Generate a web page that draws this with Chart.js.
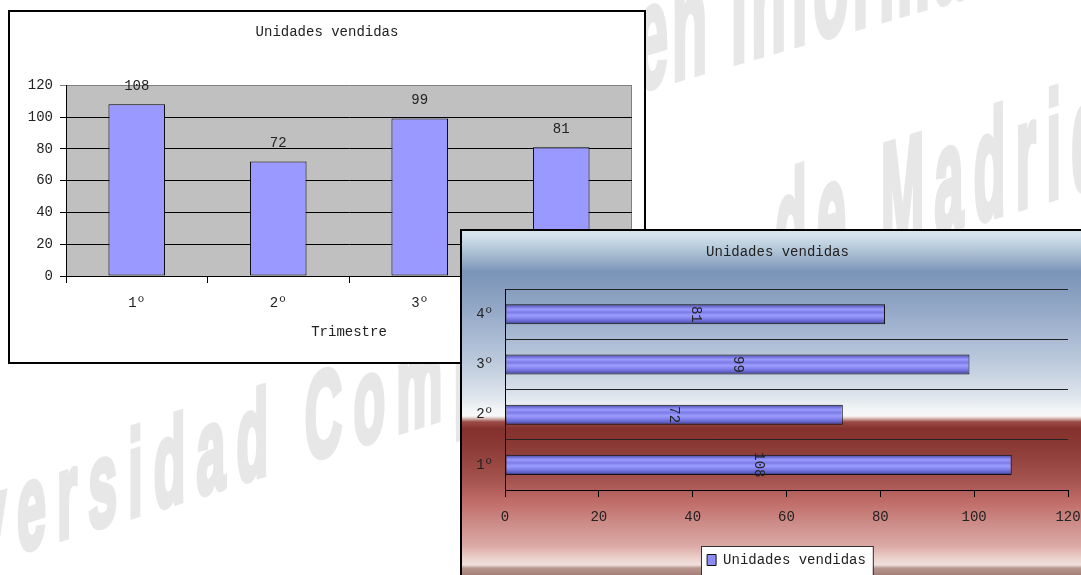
<!DOCTYPE html>
<html>
<head>
<meta charset="utf-8">
<script src="https://cdn.jsdelivr.net/npm/chart.js@4.4.1/dist/chart.umd.min.js"></script>
<style>
    html, body { margin: 0; padding: 0; background: #fff; width: 1081px; height: 575px; overflow: hidden; position: relative; }
    .wm {
        position: absolute; font-family: "Liberation Sans", Arial, sans-serif; font-weight: bold; line-height: 1;
        color: #e7e7e7; -webkit-text-stroke: 6px #e7e7e7; white-space: nowrap; transform-origin: 0 0;
    }
    #box1 { position: absolute; left: 8px; top: 10px; width: 634px; height: 350px; border: 2px solid #000; background: #fff; }
    #box2 {
        position: absolute; left: 460px; top: 229px; width: 640px; height: 346px; border: 2px solid #000;
        background: linear-gradient(to bottom,
            #d6e4ee 3px, #b4c8d8 18px, #8aa2c2 35px, #7a94b8 41px, #96aac8 81px, #bccadc 131px,
            #dde4ec 165px, #f2f4f6 178px, #f8f8f8 185px, #e0c8c4 187px, #9a4a46 191px, #84302c 198px,
            #8c3a36 215px, #a4524e 248px, #c06c68 271px, #cc8a86 291px, #dcaaa6 315px, #ecd4ce 328px,
            #f0e0dc 334px, #b89890 337px, #a07870 346px);
    }
    canvas { display: block; }
</style>
</head>
<body>
<div class="wm" style="left:636px; top:-34px; font-size:148px; letter-spacing:10px; transform: skewY(-16deg) scaleX(0.39);">en Informática</div>
<div class="wm" style="left:-140px; top:499px; font-size:122px; letter-spacing:26px; transform: skewY(-17.5deg) scaleX(0.426);">Universidad Complutense</div>
<div class="wm" style="left:775px; top:155px; font-size:151px; letter-spacing:30px; -webkit-text-stroke-width:7px; transform: skewY(-17deg) scaleX(0.344);">de Madrid</div>

<div id="box1"><canvas id="columnas" width="634" height="350"></canvas></div>
<div id="box2"><canvas id="barras" width="640" height="346"></canvas></div>

<script>
    const titulo = 'Unidades vendidas';
    const serieNombre = 'Unidades vendidas';
    const ejeX = 'Trimestre';
    const trimestres = ['1º', '2º', '3º', '4º'];
    const unidades = [108, 72, 99, 81];
    const ejeMax = 120;
    const ejePaso = 20;

    const mono = '"Liberation Mono", "DejaVu Sans Mono", monospace';
    const fuente = { family: mono, size: 14, weight: 'normal' };
    const tinta = '#222';

    // fondo gris del area de trazado (solo el primer grafico)
    const fondoGris = {
        id: 'fondoGris',
        beforeDraw(chart) {
            const { ctx, chartArea: a } = chart;
            ctx.save();
            ctx.fillStyle = '#c0c0c0';
            ctx.fillRect(a.left, a.top, a.right - a.left, a.bottom - a.top);
            ctx.strokeStyle = '#808080';
            ctx.lineWidth = 1;
            ctx.beginPath();
            ctx.moveTo(a.right - 0.5, a.top);
            ctx.lineTo(a.right - 0.5, a.bottom);
            ctx.stroke();
            ctx.restore();
        }
    };

    const valoresArriba = {
        id: 'valoresArriba',
        afterDatasetsDraw(chart) {
            const { ctx } = chart;
            const meta = chart.getDatasetMeta(0);
            ctx.save();
            ctx.font = `14px ${mono}`;
            ctx.fillStyle = tinta;
            ctx.textAlign = 'center';
            ctx.textBaseline = 'middle';
            meta.data.forEach((bar, i) => {
                ctx.fillText(String(chart.data.datasets[0].data[i]), bar.x, bar.y - 18);
            });
            ctx.restore();
        }
    };

    const valoresGirados = {
        id: 'valoresGirados',
        afterDatasetsDraw(chart) {
            const { ctx } = chart;
            const meta = chart.getDatasetMeta(0);
            ctx.save();
            ctx.font = `14px ${mono}`;
            ctx.fillStyle = tinta;
            ctx.textAlign = 'center';
            ctx.textBaseline = 'middle';
            meta.data.forEach((bar, i) => {
                ctx.save();
                ctx.translate((bar.x + bar.base) / 2, bar.y);
                ctx.rotate(Math.PI / 2);
                ctx.fillText(String(chart.data.datasets[0].data[i]), 0, 0);
                ctx.restore();
            });
            ctx.restore();
        }
    };

    const cajaLeyenda = {
        id: 'cajaLeyenda',
        afterLayout(chart) {
            // el titulo del original queda algo a la izquierda del centro del area
            const t = chart.titleBlock;
            if (t) { t.left -= 9; t.right -= 9; }
        },
        beforeDraw(chart) {
            const lg = chart.legend;
            if (!lg) return;
            const { ctx } = chart;
            ctx.save();
            ctx.font = `14px ${mono}`;
            const w = lg.options.labels.boxWidth + 7 + ctx.measureText(serieNombre).width;
            const left = Math.round((lg.left + lg.right - w) / 2);
            ctx.fillStyle = '#fff';
            ctx.strokeStyle = '#333';
            ctx.lineWidth = 1;
            ctx.fillRect(left - 5, lg.top + 3, w + 12, chart.height);
            ctx.strokeRect(left - 5.5, lg.top + 3.5, w + 13, chart.height);
            ctx.restore();
        }
    };

    const rellenoBarra = (c) => {
        const chart = c.chart;
        if (!chart.chartArea || c.type !== 'data') return '#8a8af0';
        const y = chart.scales.y.getPixelForValue(c.dataIndex);
        const half = chart.scales.y.height / trimestres.length * 0.4 / 2;
        const g = chart.ctx.createLinearGradient(0, y - half, 0, y + half);
        g.addColorStop(0, '#2e2e60');
        g.addColorStop(0.1, '#6a6ad0');
        g.addColorStop(0.25, '#9a9aff');
        g.addColorStop(0.4, '#7c7ce6');
        g.addColorStop(0.55, '#9c9cff');
        g.addColorStop(0.7, '#8484ee');
        g.addColorStop(0.88, '#5e5ec4');
        g.addColorStop(1, '#2e2e60');
        return g;
    };

    new Chart(document.getElementById('columnas'), {
        type: 'bar',
        data: {
            labels: trimestres,
            datasets: [{
                label: serieNombre,
                data: unidades,
                backgroundColor: '#9999ff',
                borderColor: '#000',
                borderWidth: 1,
                borderSkipped: false,
                barPercentage: 0.4,
                categoryPercentage: 1
            }]
        },
        options: {
            responsive: false,
            animation: false,
            layout: { padding: { left: 12, right: 12, top: 0, bottom: 0 } },
            plugins: {
                legend: { display: false },
                tooltip: { enabled: false },
                title: { display: true, text: titulo, font: fuente, color: tinta, padding: { top: 12, bottom: 44.4 } }
            },
            scales: {
                x: {
                    grid: { offset: true, drawOnChartArea: false, color: '#000', tickLength: 7 },
                    border: { color: '#000' },
                    ticks: { padding: 12, font: fuente, color: tinta },
                    title: { display: true, text: ejeX, font: fuente, color: tinta, padding: { top: 0, bottom: 21 } },
                    afterFit: (s) => { s.height = 86; }
                },
                y: {
                    min: 0,
                    max: ejeMax,
                    ticks: { stepSize: ejePaso, padding: 7, font: fuente, color: tinta },
                    grid: { color: (c) => (c.tick && c.tick.value === ejeMax ? '#808080' : '#000'), tickLength: 6 },
                    border: { color: '#000' },
                    afterFit: (s) => { s.width = 44; }
                }
            }
        },
        plugins: [fondoGris, valoresArriba]
    });

    new Chart(document.getElementById('barras'), {
        type: 'bar',
        data: {
            labels: trimestres,
            datasets: [{
                label: serieNombre,
                data: unidades,
                backgroundColor: rellenoBarra,
                borderColor: '#111',
                borderWidth: 1,
                borderSkipped: false,
                barPercentage: 0.4,
                categoryPercentage: 1
            }]
        },
        options: {
            indexAxis: 'y',
            responsive: false,
            animation: false,
            layout: { padding: { left: 0, right: 34, top: 0, bottom: 0 } },
            plugins: {
                tooltip: { enabled: false },
                title: { display: true, text: titulo, font: fuente, color: tinta, fullSize: false, padding: { top: 13, bottom: 28.4 } },
                legend: {
                    display: true,
                    position: 'bottom',
                    fullSize: false,
                    labels: {
                        boxWidth: 9,
                        boxHeight: 11,
                        padding: 10,
                        font: fuente,
                        color: tinta,
                        generateLabels: (chart) => Chart.defaults.plugins.legend.labels.generateLabels(chart)
                            .map((l) => ({ ...l, fillStyle: '#8c8cf4', strokeStyle: '#111', lineWidth: 1 }))
                    }
                }
            },
            scales: {
                x: {
                    min: 0,
                    max: ejeMax,
                    ticks: { stepSize: ejePaso, padding: 12, font: fuente, color: tinta },
                    grid: { drawOnChartArea: false, tickLength: 7, color: '#000' },
                    border: { color: '#000' },
                    afterFit: (s) => { s.height = 53; }
                },
                y: {
                    reverse: true,
                    grid: { offset: true, drawTicks: false, color: '#222' },
                    border: { color: '#000' },
                    ticks: { padding: 12, font: fuente, color: tinta },
                    afterFit: (s) => { s.width = 43; }
                }
            }
        },
        plugins: [cajaLeyenda, valoresGirados]
    });
</script>
</body>
</html>
